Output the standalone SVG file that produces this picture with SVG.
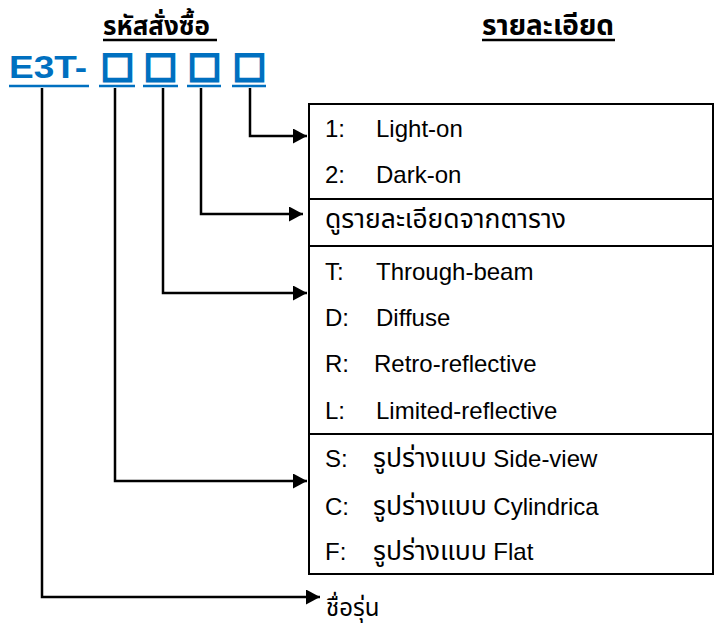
<svg xmlns="http://www.w3.org/2000/svg" width="719" height="625" viewBox="0 0 719 625">
<style>
.t{font-family:"Liberation Sans","Noto Sans Thai",Tahoma,sans-serif;font-size:24px;fill:#000}
.th{font-size:26.5px}
.h{font-family:"Liberation Sans","Noto Sans Thai",Tahoma,sans-serif;font-size:26px;font-weight:bold;fill:#000}
.code{font-family:"Liberation Sans",Arial,sans-serif;font-size:37px;font-weight:bold;fill:#0070C0}
.sq{font-family:"DejaVu Sans",sans-serif;font-size:35px;font-weight:bold;fill:#0070C0;stroke:#0070C0;stroke-width:2.6}
.ul{stroke:#0070C0;stroke-width:2.5}
.hl{stroke:#000;stroke-width:2.5}
.c{fill:none;stroke:#000;stroke-width:2.5;marker-end:url(#ah)}
.bx{fill:none;stroke:#000;stroke-width:2}
</style>
<defs>
<marker id="ah" markerUnits="userSpaceOnUse" markerWidth="15" markerHeight="16" refX="14" refY="7.5" orient="auto">
<path d="M0,0 L14,7.5 L0,15 z" fill="#000"/>
</marker>
</defs>
<rect width="719" height="625" fill="#fff"/>
<g id="heading-code">
<text class="h" x="103" y="35">รหัสสั่งซื้อ</text>
<line class="hl" x1="103" y1="40" x2="217" y2="40"/>
</g>
<g id="heading-detail">
<text class="h" x="482" y="35" style="font-size:28px">รายละเอียด</text>
<line class="hl" x1="482" y1="40" x2="615" y2="40"/>
</g>
<g id="code">
<text class="code" x="9" y="78" transform="translate(0,78) scale(1,0.83) translate(0,-78)">E3T-</text>
<line class="ul" x1="9" y1="86" x2="89" y2="86"/>
<text class="sq" x="101" y="77">□</text>
<text class="sq" x="144" y="77">□</text>
<text class="sq" x="188" y="77">□</text>
<text class="sq" x="233" y="77">□</text>
<line class="ul" x1="99" y1="86" x2="135" y2="86"/>
<line class="ul" x1="143" y1="86" x2="178" y2="86"/>
<line class="ul" x1="187" y1="86" x2="221" y2="86"/>
<line class="ul" x1="232" y1="86" x2="266" y2="86"/>
</g>
<g id="table">
<rect class="bx" x="309" y="104" width="404" height="470"/>
<line class="bx" x1="309" y1="199" x2="713" y2="199"/>
<line class="bx" x1="309" y1="246" x2="713" y2="246"/>
<line class="bx" x1="309" y1="434" x2="713" y2="434"/>
</g>
<g id="opt-output">
<text class="t" x="325" y="137">1:</text><text class="t" x="376" y="137">Light-on</text>
<text class="t" x="325" y="183">2:</text><text class="t" x="376" y="183">Dark-on</text>
</g>
<g id="opt-table">
<text class="t th" x="325" y="228">ดูรายละเอียดจากตาราง</text>
</g>
<g id="opt-type">
<text class="t" x="325" y="280">T:</text><text class="t" x="376" y="280">Through-beam</text>
<text class="t" x="325" y="326">D:</text><text class="t" x="376" y="326">Diffuse</text>
<text class="t" x="325" y="372">R:</text><text class="t" x="374" y="372">Retro-reflective</text>
<text class="t" x="325" y="419">L:</text><text class="t" x="376" y="419">Limited-reflective</text>
</g>
<g id="opt-shape">
<text class="t" x="325" y="467">S:</text><text class="t" x="373" y="467"><tspan class="th">รูปร่างแบบ</tspan> Side-view</text>
<text class="t" x="325" y="515">C:</text><text class="t" x="373" y="515"><tspan class="th">รูปร่างแบบ</tspan> Cylindrica</text>
<text class="t" x="325" y="560">F:</text><text class="t" x="373" y="560"><tspan class="th">รูปร่างแบบ</tspan> Flat</text>
</g>
<g id="model-name">
<text class="t" x="326" y="616">ชื่อรุ่น</text>
</g>
<g id="connectors">
<path class="c" d="M42,88 V597 H320"/>
<path class="c" d="M115,88 V481 H307"/>
<path class="c" d="M163,88 V293 H307"/>
<path class="c" d="M201,88 V214 H303"/>
<path class="c" d="M250,88 V136 H307"/>
</g>
</svg>
